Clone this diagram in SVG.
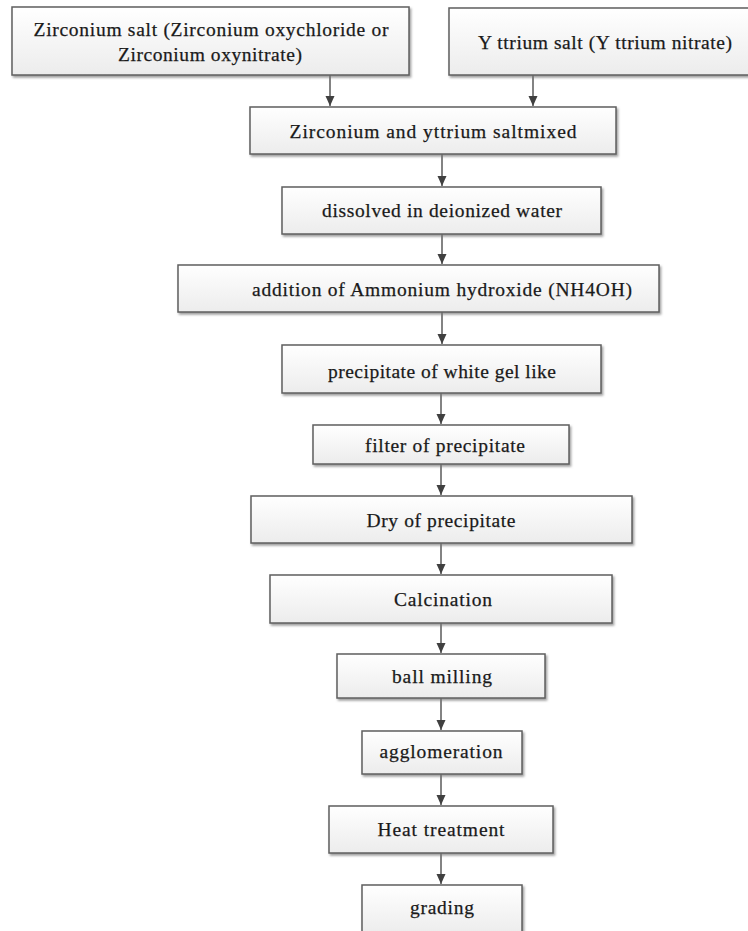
<svg xmlns="http://www.w3.org/2000/svg" width="748" height="931" viewBox="0 0 748 931">
<defs>
<linearGradient id="g" x1="0" y1="0" x2="0" y2="1">
<stop offset="0" stop-color="#ffffff"/>
<stop offset="1" stop-color="#ececec"/>
</linearGradient>
<filter id="sh" x="-5%" y="-10%" width="110%" height="130%">
<feDropShadow dx="1.5" dy="2" stdDeviation="0.8" flood-color="#777" flood-opacity="0.7"/>
</filter>
<marker id="ah" markerUnits="userSpaceOnUse" markerWidth="10" markerHeight="10" viewBox="0 0 10 10" refX="10" refY="5" orient="auto">
<path d="M0,0.5 L10,5 L0,9.5 z" fill="#404040"/>
</marker>
</defs>
<style>
.box{fill:url(#g);stroke:#5f5f5f;stroke-width:1.5;filter:url(#sh)}
.t{font-family:"Liberation Serif","Times New Roman",serif;font-size:19.5px;fill:#1a1a1a;stroke:#1a1a1a;stroke-width:0.25;text-anchor:middle}
.c{stroke:#5a5a5a;stroke-width:1.5;fill:none;marker-end:url(#ah)}
</style>
<rect width="748" height="931" fill="#ffffff"/>
<g id="connectors">
<line class="c" x1="330" y1="75" x2="330" y2="106"/>
<line class="c" x1="533" y1="75" x2="533" y2="106"/>
<line class="c" x1="442" y1="154" x2="442" y2="186"/>
<line class="c" x1="442" y1="234" x2="442" y2="264"/>
<line class="c" x1="442" y1="312" x2="442" y2="344"/>
<line class="c" x1="441" y1="393" x2="441" y2="424"/>
<line class="c" x1="441" y1="464" x2="441" y2="495"/>
<line class="c" x1="441" y1="543" x2="441" y2="574"/>
<line class="c" x1="441" y1="623" x2="441" y2="653"/>
<line class="c" x1="441" y1="698" x2="441" y2="730"/>
<line class="c" x1="441" y1="774" x2="441" y2="805"/>
<line class="c" x1="441" y1="853" x2="441" y2="884"/>
</g>
<g id="n1">
<rect class="box" x="12" y="7" width="397" height="68"/>
<text class="t" x="211" y="36" textLength="355" lengthAdjust="spacing">Zirconium salt (Zirconium oxychloride or</text>
<text class="t" x="210" y="61" textLength="184" lengthAdjust="spacing">Zirconium oxynitrate)</text>
</g>
<g id="n2">
<rect class="box" x="449" y="8" width="305" height="67"/>
<text class="t" x="605" y="49" textLength="254" lengthAdjust="spacing">Y ttrium  salt (Y ttrium nitrate)</text>
</g>
<g id="n3">
<rect class="box" x="250" y="107" width="366" height="47"/>
<text class="t" x="433" y="138" textLength="287" lengthAdjust="spacing">Zirconium and yttrium saltmixed</text>
</g>
<g id="n4">
<rect class="box" x="282" y="187" width="319" height="47"/>
<text class="t" x="442" y="217" textLength="240" lengthAdjust="spacing">dissolved in deionized water</text>
</g>
<g id="n5">
<rect class="box" x="178" y="265" width="481" height="47"/>
<text class="t" x="442" y="296" textLength="380" lengthAdjust="spacing">addition of Ammonium hydroxide (NH4OH)</text>
</g>
<g id="n6">
<rect class="box" x="282" y="345" width="319" height="48"/>
<text class="t" x="442" y="378" textLength="228" lengthAdjust="spacing">precipitate of white gel like</text>
</g>
<g id="n7">
<rect class="box" x="313" y="425" width="256" height="39"/>
<text class="t" x="445" y="452" textLength="160" lengthAdjust="spacing">filter of precipitate</text>
</g>
<g id="n8">
<rect class="box" x="251" y="496" width="381" height="47"/>
<text class="t" x="441" y="527" textLength="149" lengthAdjust="spacing">Dry of precipitate</text>
</g>
<g id="n9">
<rect class="box" x="270" y="575" width="342" height="48"/>
<text class="t" x="443" y="606" textLength="98" lengthAdjust="spacing">Calcination</text>
</g>
<g id="n10">
<rect class="box" x="337" y="654" width="208" height="44"/>
<text class="t" x="442" y="683" textLength="100" lengthAdjust="spacing">ball milling</text>
</g>
<g id="n11">
<rect class="box" x="362" y="731" width="160" height="43"/>
<text class="t" x="441" y="758" textLength="123" lengthAdjust="spacing">agglomeration</text>
</g>
<g id="n12">
<rect class="box" x="329" y="806" width="224" height="47"/>
<text class="t" x="441" y="836" textLength="127" lengthAdjust="spacing">Heat treatment</text>
</g>
<g id="n13">
<rect class="box" x="362" y="885" width="160" height="50"/>
<text class="t" x="442" y="914" textLength="64" lengthAdjust="spacing">grading</text>
</g>
</svg>
